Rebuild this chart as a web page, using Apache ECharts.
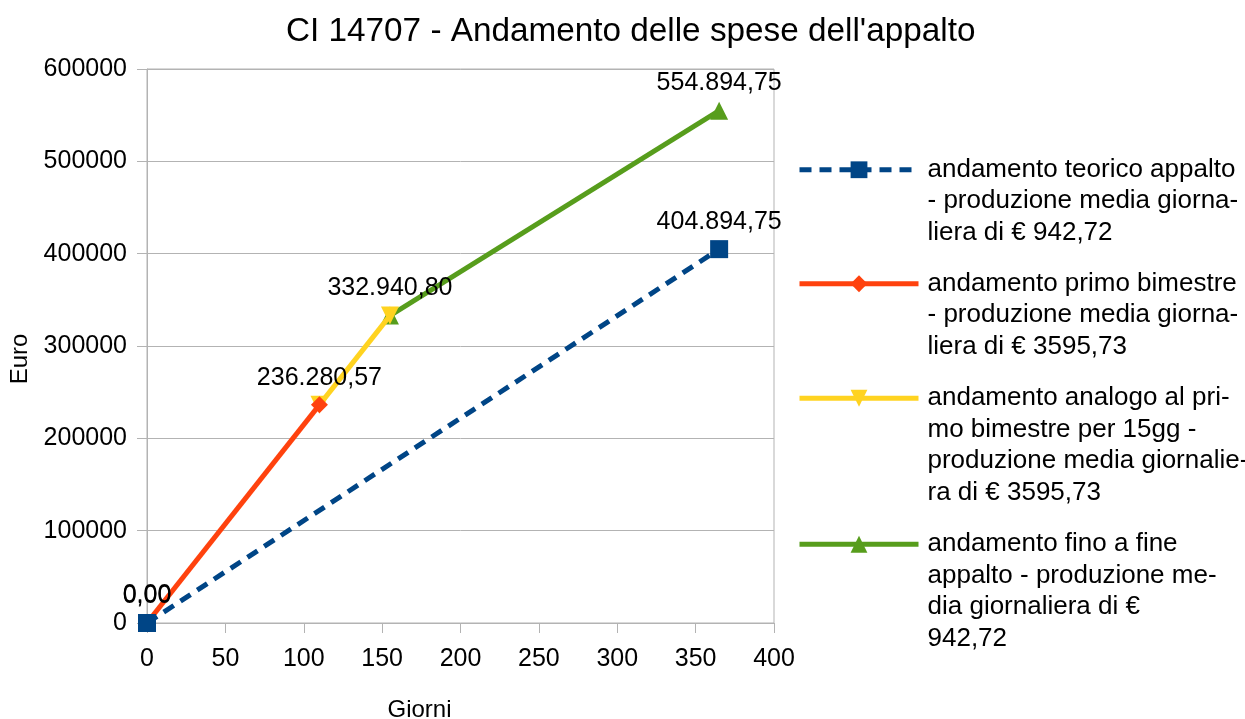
<!DOCTYPE html>
<html>
<head>
<meta charset="utf-8">
<script src="https://cdn.jsdelivr.net/npm/echarts@6/dist/echarts.min.js"></script>
<style>
  html, body { margin: 0; padding: 0; background: #fff; }
  #chart { width: 1245px; height: 719px; }
</style>
</head>
<body>
<div id="chart"></div>
<script>
const fontFamily = "Liberation Sans, Arial, sans-serif";

const seriesNames = [
  "andamento teorico appalto\n- produzione media giorna-\nliera di € 942,72",
  "andamento primo bimestre\n- produzione media giorna-\nliera di € 3595,73",
  "andamento analogo al pri-\nmo bimestre per 15gg -\nproduzione media giornalie-\nra di € 3595,73",
  "andamento fino a fine\nappalto - produzione me-\ndia giornaliera di €\n942,72",
];

const teoricoX = [0, 365];
const teoricoY = [0, 404894.75];
const bimestreX = [0, 110];
const bimestreY = [0, 236280.57];
const analogoX = [110, 155];
const analogoY = [236280.57, 332940.8];
const fineX = [155, 365];
const fineY = [332940.8, 554894.75];

// which points carry a value label
const teoricoLabels = [true, true];
const bimestreLabels = [true, true];
const analogoLabels = [false, true];
const fineLabels = [false, true];

const blueColor = "#004586";
const redColor = "#ff420e";
const yellowColor = "#ffd320";
const greenColor = "#579d1c";

function formatIt(v) {
  const parts = v.toFixed(2).split(".");
  return parts[0].replace(/\B(?=(\d{3})+$)/g, ".") + "," + parts[1];
}

function buildData(xs, ys, labels) {
  return xs.map((x, i) => ({ value: [x, ys[i]], label: { show: labels[i] } }));
}

function lineSeries(name, color, data, symbol, size, extra) {
  return Object.assign({
    name: name,
    type: "line",
    data: data,
    symbol: symbol,
    symbolSize: size,
    lineStyle: { width: 5, color: color },
    itemStyle: { color: color },
    label: {
      position: "top",
      distance: 6,
      color: "#000",
      fontSize: 25,
      fontFamily: fontFamily,
      formatter: (p) => formatIt(p.value[1]),
    },
    animation: false,
  }, extra);
}

// the icon sits on the first text line: blank lines above the name keep it centred there
const legendLines = [3, 3, 4, 4];
const legendTops = [91, 205, 288, 434];

const chart = echarts.init(document.getElementById("chart"), null, { renderer: "canvas" });

chart.setOption({
  animation: false,
  title: {
    text: "CI 14707 - Andamento delle spese dell'appalto",
    left: 286,
    top: 15,
    padding: 0,
    textStyle: { fontSize: 33.3, fontWeight: "normal", color: "#000", fontFamily: fontFamily },
  },
  grid: {
    left: 147, right: 471, top: 69, bottom: 96,
    outerBoundsMode: "none",
    show: true, borderColor: "#b3b3b3", borderWidth: 1,
  },
  legend: seriesNames.map((n, i) => ({
    data: [n],
    orient: "vertical",
    left: 797,
    top: legendTops[i],
    padding: 0,
    itemWidth: 119,
    itemHeight: 21,
    selectedMode: false,
    lineStyle: { width: 5 },
    formatter: (name) => " \n".repeat(legendLines[i] - 1) + name,
    textStyle: { fontSize: 26, lineHeight: 31.5, color: "#000", fontFamily: fontFamily, padding: [0, 0, 0, 4] },
  })),
  xAxis: {
    type: "value",
    min: 0,
    max: 400,
    interval: 50,
    name: "Giorni",
    nameLocation: "middle",
    nameGap: 75,
    nameTextStyle: { fontSize: 24, color: "#000", fontFamily: fontFamily, padding: [0, 82, 0, 0] },
    axisLine: { show: true, lineStyle: { color: "#b3b3b3", width: 1 } },
    axisTick: { show: true, length: 10, lineStyle: { color: "#b3b3b3" } },
    axisLabel: { color: "#000", fontSize: 25, fontFamily: fontFamily, margin: 24 },
    splitLine: { show: false },
  },
  yAxis: {
    type: "value",
    min: 0,
    max: 600000,
    interval: 100000,
    name: "Euro",
    nameLocation: "middle",
    nameGap: 97,
    nameTextStyle: { fontSize: 24, color: "#000", fontFamily: fontFamily, padding: [0, 26, 0, 0] },
    axisLine: { show: true, lineStyle: { color: "#b3b3b3", width: 1 } },
    axisTick: { show: true, length: 10, lineStyle: { color: "#b3b3b3" } },
    axisLabel: { color: "#000", fontSize: 25, fontFamily: fontFamily, margin: 20, formatter: (v) => String(v) },
    splitLine: { show: true, lineStyle: { color: "#b3b3b3", width: 1 } },
  },
  series: [
    lineSeries(seriesNames[0], blueColor, buildData(teoricoX, teoricoY, teoricoLabels), "rect", 18,
      { z: 5, lineStyle: { width: 5, color: blueColor, type: [12, 8] } }),
    lineSeries(seriesNames[1], redColor, buildData(bimestreX, bimestreY, bimestreLabels), "diamond", 17, { z: 4 }),
    lineSeries(seriesNames[2], yellowColor, buildData(analogoX, analogoY, analogoLabels), "triangle", 18,
      { z: 3, symbolRotate: 180 }),
    lineSeries(seriesNames[3], greenColor, buildData(fineX, fineY, fineLabels), "triangle", 18, { z: 2 }),
  ],
});
</script>
</body>
</html>
